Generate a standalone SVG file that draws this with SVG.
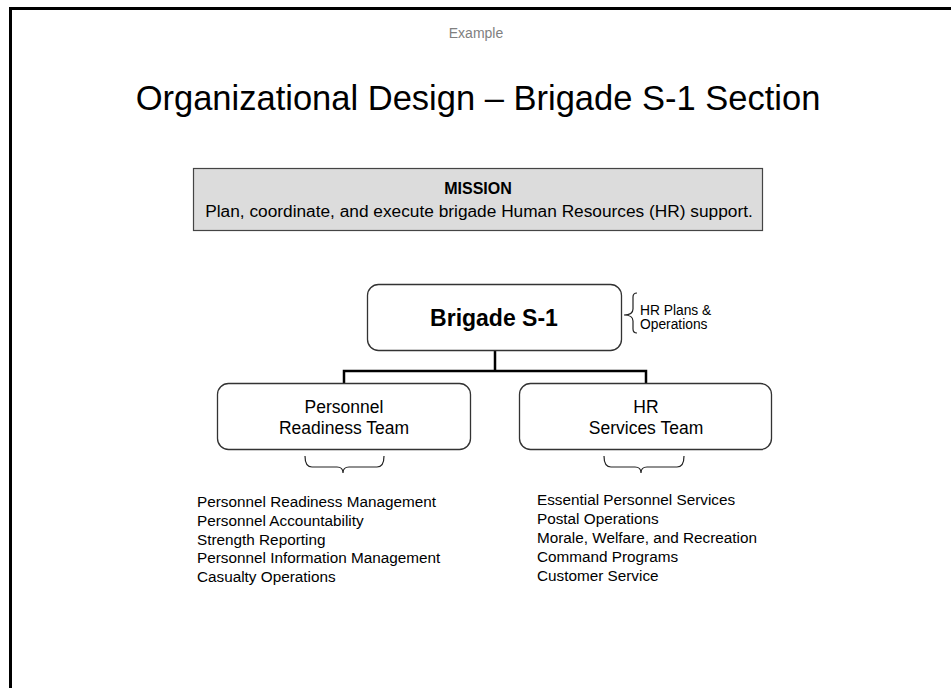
<svg xmlns="http://www.w3.org/2000/svg" width="951" height="688" viewBox="0 0 951 688">
<style>
text{font-family:"Liberation Sans",Arial,sans-serif;fill:#000}
.node{fill:#fff;stroke:#333;stroke-width:1.3}
.conn{fill:none;stroke:#000;stroke-width:2.5}
.brace{fill:none;stroke:#222;stroke-width:1.2}
.list{font-size:15.3px}
.team{font-size:17.5px}
</style>
<rect x="0" y="0" width="951" height="688" fill="#fff"/>
<path d="M10.5 688 V8.5 H951" fill="none" stroke="#000" stroke-width="3"/>
<text x="476" y="38" font-size="14" text-anchor="middle" style="fill:#808080">Example</text>
<text x="478" y="110" font-size="34.5" text-anchor="middle">Organizational Design – Brigade S-1 Section</text>
<g id="mission">
<rect x="193.5" y="168.5" width="569" height="62" fill="#dcdcdc" stroke="#444" stroke-width="1.2"/>
<text x="478" y="194" font-size="16" font-weight="bold" text-anchor="middle">MISSION</text>
<text x="479" y="217" font-size="17.3" text-anchor="middle">Plan, coordinate, and execute brigade Human Resources (HR) support.</text>
</g>
<g id="connectors">
<path class="conn" d="M495 351 V371 M344 384 V371 H646 V384"/>
</g>
<g id="brigade">
<rect class="node" x="367.5" y="284.5" width="254" height="66" rx="11"/>
<text x="494" y="326" font-size="23" font-weight="bold" text-anchor="middle">Brigade S-1</text>
<path class="brace" d="M637 293 Q633 293 633 297 V309 Q633 315 624 315 Q633 315 633 321 V329 Q633 333 637 333"/>
<text x="640" y="315" font-size="13.8">HR Plans &amp;</text>
<text x="640" y="329" font-size="13.8">Operations</text>
</g>
<g id="prt">
<rect class="node" x="217.5" y="383.5" width="253" height="66" rx="11"/>
<text class="team" x="344" y="413" text-anchor="middle">Personnel</text>
<text class="team" x="344" y="434" text-anchor="middle">Readiness Team</text>
<path class="brace" d="M305 456 Q305 467 312 467 H337 Q343 467 343 473 Q343 467 349 467 H377 Q384 467 384 456"/>
<text class="list" x="197" y="507">Personnel Readiness Management</text>
<text class="list" x="197" y="526">Personnel Accountability</text>
<text class="list" x="197" y="545">Strength Reporting</text>
<text class="list" x="197" y="563">Personnel Information Management</text>
<text class="list" x="197" y="582">Casualty Operations</text>
</g>
<g id="hrst">
<rect class="node" x="519.5" y="383.5" width="252" height="66" rx="11"/>
<text class="team" x="646" y="413" text-anchor="middle">HR</text>
<text class="team" x="646" y="434" text-anchor="middle">Services Team</text>
<path class="brace" d="M604 456 Q604 467 611 467 H635 Q641 467 641 473 Q641 467 647 467 H677 Q684 467 684 456"/>
<text class="list" x="537" y="505">Essential Personnel Services</text>
<text class="list" x="537" y="524">Postal Operations</text>
<text class="list" x="537" y="543">Morale, Welfare, and Recreation</text>
<text class="list" x="537" y="562">Command Programs</text>
<text class="list" x="537" y="581">Customer Service</text>
</g>
</svg>
